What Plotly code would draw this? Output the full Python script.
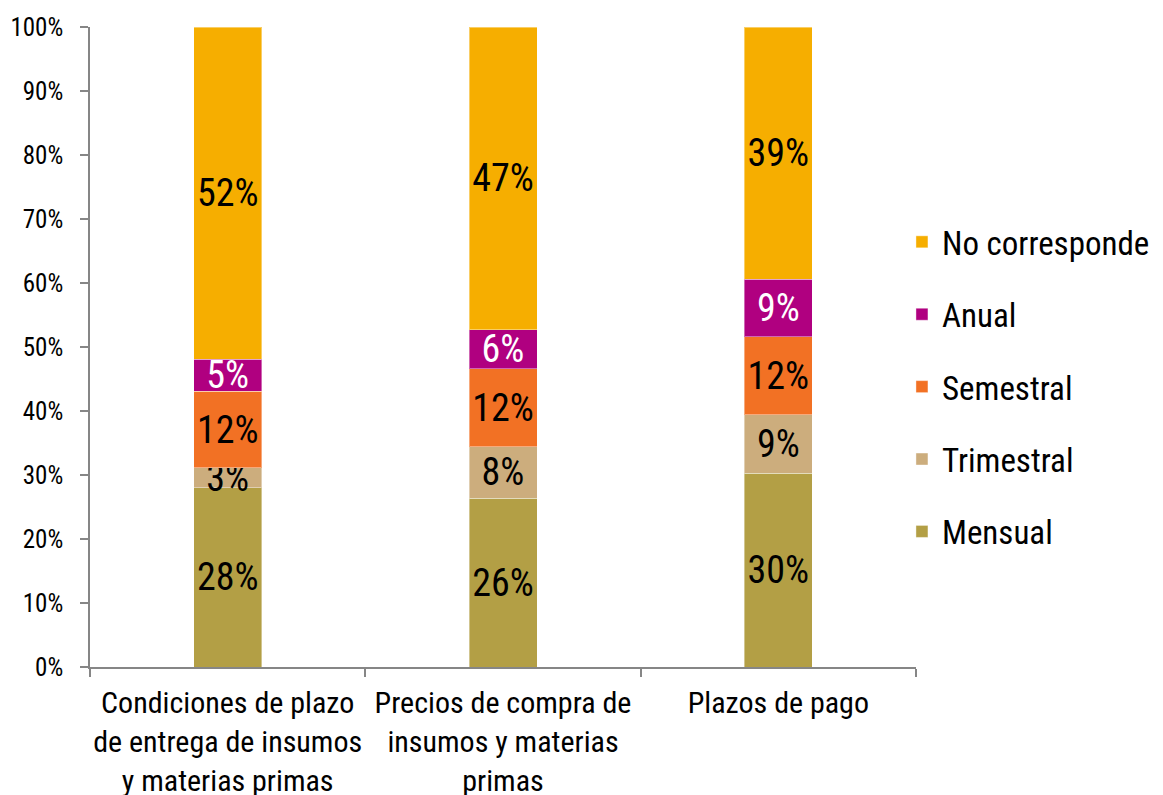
import plotly.graph_objects as go

categories = [
    "Condiciones de plazo<br>de entrega de insumos<br>y materias primas",
    "Precios de compra de<br>insumos y materias<br>primas",
    "Plazos de pago",
]
mensual = [28.0, 26.4, 30.3]
trimestral = [3.1, 8.0, 9.1]
semestral = [12.0, 12.2, 12.2]
anual = [5.0, 6.1, 9.0]
no_corresponde = [51.9, 47.3, 39.4]

series = [
    ("Mensual", mensual, "#B39F45", "black"),
    ("Trimestral", trimestral, "#CCAD7D", "black"),
    ("Semestral", semestral, "#F27124", "black"),
    ("Anual", anual, "#B00080", "white"),
    ("No corresponde", no_corresponde, "#F6AE00", "black"),
]

FONT = "Liberation Sans Narrow, Arial Narrow, Roboto Condensed, sans-serif"

fig = go.Figure()
for i, (name, vals, color, tcol) in enumerate(series):
    fig.add_trace(go.Bar(
        name=name, x=categories, y=vals,
        marker=dict(color=color, line=dict(color="rgba(255,255,255,0.4)", width=1)),
        text=[f"{round(v):.0f}%" for v in vals],
        textposition="inside", insidetextanchor="middle", textangle=0,
        textfont=dict(color=tcol, size=38, family=FONT),
        constraintext="none",
        legendgroup=name,
        legendrank=len(series) - i,
        hoverinfo="skip",
    ))

fig.update_layout(
    barmode="stack", barnorm="percent",
    bargap=0.753,
    width=1163, height=795,
    margin=dict(l=82, r=255, t=19, b=136, autoexpand=False),
    paper_bgcolor="white", plot_bgcolor="white",
    font=dict(family=FONT, color="black"),
    uniformtext=dict(minsize=38, mode="show"),
    legend=dict(
        x=0.983, xanchor="left", y=0.708, yanchor="top",
        traceorder="grouped", tracegroupgap=26.5,
        font=dict(size=33, family=FONT),
        bgcolor="rgba(0,0,0,0)",
    ),
    showlegend=True,
)
fig.update_yaxes(
    range=[0, 100], dtick=10, ticksuffix="%",
    showgrid=False, zeroline=False, automargin=False,
    showline=True, linecolor="#868686", linewidth=1.5,
    ticks="outside", ticklen=8, tickcolor="#868686", tickwidth=1.5,
    ticklabelstandoff=12,
    tickfont=dict(size=25, family=FONT),
)
fig.update_xaxes(
    showgrid=False, automargin=False, tickangle=0,
    showline=True, linecolor="#868686", linewidth=1.5,
    ticks="outside", ticklen=8, tickcolor="#868686", tickwidth=1.5,
    tickson="boundaries", ticklabelstandoff=8,
    tickfont=dict(size=30, family=FONT),
)

fig.write_html("out.html")
